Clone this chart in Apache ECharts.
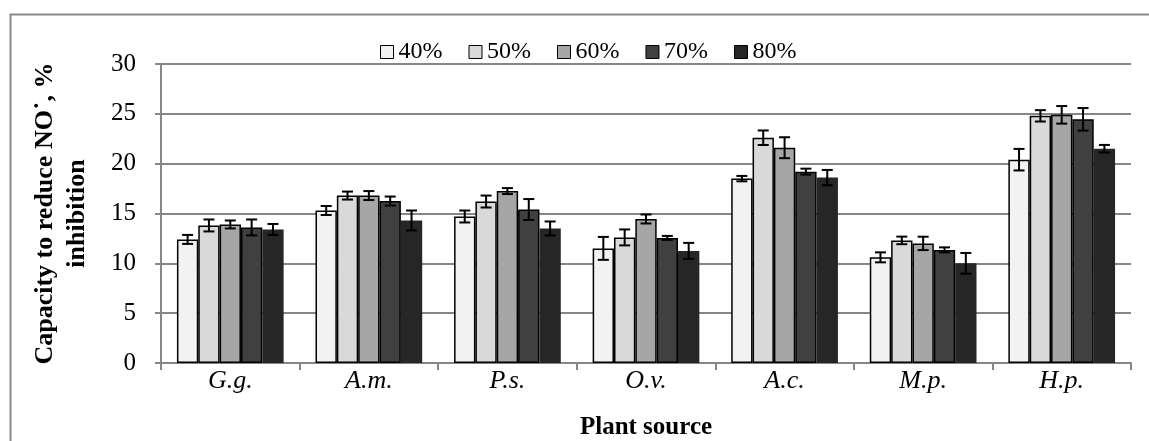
<!DOCTYPE html>
<html>
<head>
<meta charset="utf-8">
<script src="https://cdn.jsdelivr.net/npm/echarts@6/dist/echarts.min.js"></script>
<style>html,body{margin:0;padding:0;background:#fff;}#c{width:1149px;height:441px;}</style>
</head>
<body>
<div id="c"></div>
<script>
const categories = ['G.g.', 'A.m.', 'P.s.', 'O.v.', 'A.c.', 'M.p.', 'H.p.'];
const seriesNames = ['40%', '50%', '60%', '70%', '80%'];
const yTicks = [0, 5, 10, 15, 20, 25, 30];
const v40 = [12.4, 15.3, 14.7, 11.5, 18.5, 10.6, 20.4];
const v50 = [13.8, 16.8, 16.2, 12.6, 22.6, 12.3, 24.8];
const v60 = [13.9, 16.8, 17.25, 14.45, 21.6, 12.0, 24.9];
const v70 = [13.6, 16.25, 15.4, 12.55, 19.2, 11.35, 24.45];
const v80 = [13.4, 14.3, 13.5, 11.25, 18.6, 10.0, 21.5];
const e40 = [0.45, 0.45, 0.6, 1.15, 0.27, 0.5, 1.08];
const e50 = [0.6, 0.4, 0.6, 0.8, 0.73, 0.38, 0.57];
const e60 = [0.4, 0.45, 0.3, 0.45, 1.05, 0.67, 0.88];
const e70 = [0.8, 0.45, 1.05, 0.2, 0.3, 0.25, 1.13];
const e80 = [0.55, 1.0, 0.7, 0.8, 0.77, 1.04, 0.38];
const colors = ['#f2f2f2', '#d9d9d9', '#a6a6a6', '#404040', '#262626'];

const values = [v40, v50, v60, v70, v80];
const errors = [e40, e50, e60, e70, e80];
const FONT = 'Liberation Serif';
const GAP = 0.23;

const series = [];
values.forEach((vals, i) => {
  series.push({
    name: seriesNames[i],
    type: 'bar',
    barGap: '0%',
    barCategoryGap: (GAP * 100) + '%',
    itemStyle: { color: colors[i], borderColor: i < 4 ? '#000' : colors[i], borderWidth: i < 4 ? 1.5 : 0 },
    data: vals,
    z: 2
  });
});
errors.forEach((errs, i) => {
  series.push({
    name: seriesNames[i] + ' err',
    type: 'custom',
    z: 5,
    data: values[i].map((v, k) => [k, v, errs[k]]),
    renderItem: function (params, api) {
      const k = api.value(0), v = api.value(1), e = api.value(2);
      const band = api.size([1, 0])[0];
      const bw = band * (1 - GAP) / 5;
      const cx = api.coord([k, v])[0] + (i - 2) * bw;
      const yHi = api.coord([k, v + e])[1];
      const yLo = api.coord([k, v - e])[1];
      const cap = 5.5;
      const st = { stroke: '#000', lineWidth: 2 };
      return { type: 'group', children: [
        { type: 'line', shape: { x1: cx, y1: yHi, x2: cx, y2: yLo }, style: st },
        { type: 'line', shape: { x1: cx - cap, y1: yHi, x2: cx + cap, y2: yHi }, style: st },
        { type: 'line', shape: { x1: cx - cap, y1: yLo, x2: cx + cap, y2: yLo }, style: st }
      ]};
    }
  });
});

const chart = echarts.init(document.getElementById('c'), null, { renderer: 'canvas' });
chart.setOption({
  animation: false,
  backgroundColor: '#fff',
  graphic: [{
    type: 'rect', left: 8, top: 12, z: -1,
    shape: { width: 1150, height: 440 },
    style: { fill: 'none', stroke: '#8a8a8a', lineWidth: 2 }
  }],
  legend: {
    data: seriesNames,
    left: 375, top: 35,
    itemWidth: 13, itemHeight: 13, itemGap: 26,
    icon: 'rect',
    itemStyle: { borderColor: '#000', borderWidth: 1 },
    textStyle: { fontFamily: FONT, fontSize: 24, color: '#000', padding: [2, 0, 0, 0] }
  },
  grid: { left: 161, right: 18, top: 64, bottom: 78, containLabel: false, outerBoundsMode: 'none' },
  xAxis: {
    type: 'category',
    data: categories,
    name: 'Plant source',
    nameLocation: 'middle',
    nameGap: 52,
    nameTextStyle: { fontFamily: FONT, fontSize: 25, fontWeight: 'bold', color: '#000' },
    axisLine: { lineStyle: { color: '#868686', width: 2 } },
    axisTick: { show: true, length: 7, lineStyle: { color: '#868686', width: 2 } },
    axisLabel: { fontFamily: FONT, fontSize: 26, fontStyle: 'italic', color: '#000', margin: 5 }
  },
  yAxis: {
    type: 'value',
    min: 0, max: 30, interval: 5,
    name: 'Capacity to reduce NO˙, %\ninhibition',
    nameLocation: 'middle',
    nameRotate: 90,
    nameGap: 68,
    nameTextStyle: { fontFamily: FONT, fontSize: 26, fontWeight: 'bold', color: '#000', lineHeight: 32 },
    axisLine: { show: true, lineStyle: { color: '#868686', width: 2 } },
    axisTick: { show: true, length: 6, lineStyle: { color: '#868686', width: 2 } },
    axisLabel: { fontFamily: FONT, fontSize: 25, color: '#000', margin: 25,
      formatter: v => yTicks.includes(v) ? String(v) : '' },
    splitLine: { lineStyle: { color: '#868686', width: 2 } }
  },
  series: series
});
</script>
</body>
</html>
